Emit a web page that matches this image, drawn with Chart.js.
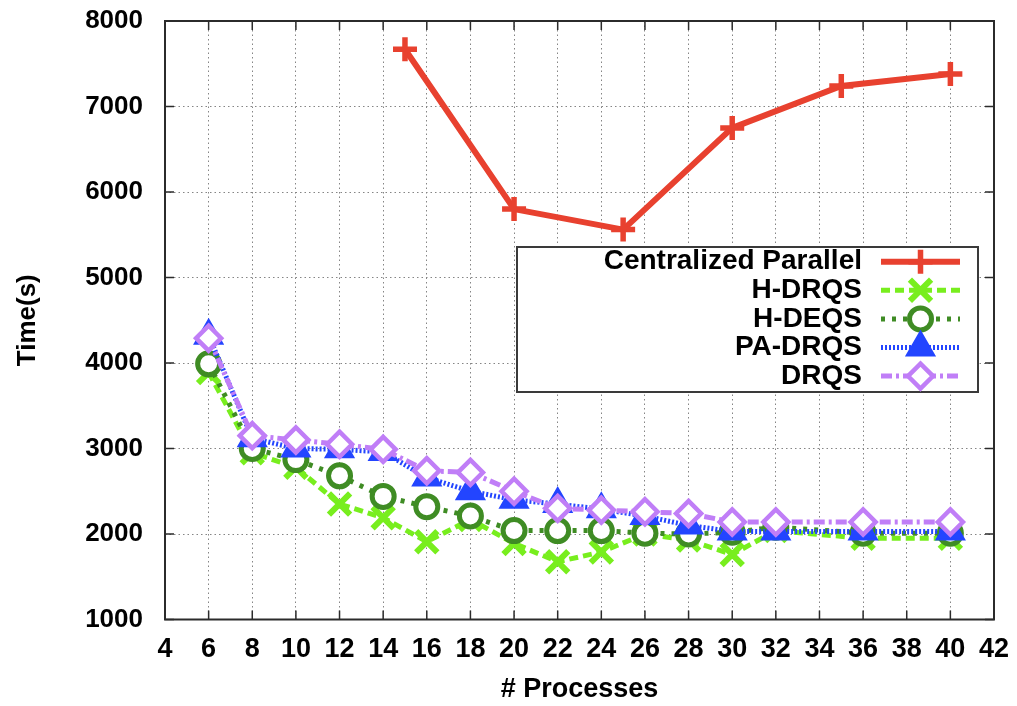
<!DOCTYPE html>
<html>
<head>
<meta charset="utf-8">
<title>Time vs. number of processes</title>
<script src="https://cdn.jsdelivr.net/npm/chart.js@4.4.1/dist/chart.umd.min.js"></script>
<style>
    html, body { margin: 0; padding: 0; background: #fff; }
    #wrap { width: 1017px; height: 706px; position: relative; }
</style>
</head>
<body>
<div id="wrap"><canvas id="timeChart"></canvas></div>
<script>
// Process counts on the x axis
const procCounts = [6, 8, 10, 12, 14, 16, 18, 20, 22, 24, 26, 28, 30, 32, 36, 40];
const centralProcs = [15, 20, 25, 30, 35, 40];

// Run times (s)
const centralizedParallel = [7670, 5800, 5560, 6750, 7240, 7380];
const hDrqs  = [3890, 2950, 2780, 2350, 2190, 1910, 2170, 1890, 1675, 1790, 2000, 1930, 1760, 2040, 1950, 1950];
const hDeqs  = [3990, 3000, 2870, 2680, 2440, 2320, 2210, 2040, 2040, 2040, 2010, 2000, 2020, 2080, 2010, 2010];
const paDrqs = [4320, 3120, 3000, 2990, 2960, 2660, 2500, 2400, 2350, 2290, 2210, 2100, 2030, 2030, 2030, 2030];
const drqs   = [4290, 3150, 3100, 3050, 2990, 2740, 2720, 2500, 2300, 2280, 2260, 2240, 2140, 2140, 2140, 2140];

// Axis ticks
const xTicks = [4, 6, 8, 10, 12, 14, 16, 18, 20, 22, 24, 26, 28, 30, 32, 34, 36, 38, 40, 42];
const yTicks = [1000, 2000, 3000, 4000, 5000, 6000, 7000, 8000];

const FONT = "'Liberation Sans', Arial, Helvetica, sans-serif";

function toPoints(xs, ys) {
    return xs.map((x, i) => ({ x: x, y: ys[i] }));
}

/**
 * Solid frame around the plot plus inward tick marks on all four sides
 */
const frameTicks = {
    id: 'frameTicks',
    afterDatasetsDraw(chart) {
        const { ctx, chartArea: a, scales } = chart;
        const len = 9;
        ctx.save();
        ctx.setLineDash([]);
        ctx.strokeStyle = '#2b2b2b';
        ctx.lineWidth = 1.5;
        ctx.beginPath();
        xTicks.forEach(v => {
            const px = scales.x.getPixelForValue(v);
            ctx.moveTo(px, a.bottom);
            ctx.lineTo(px, a.bottom - len);
            ctx.moveTo(px, a.top);
            ctx.lineTo(px, a.top + len);
        });
        yTicks.forEach(v => {
            const py = scales.y.getPixelForValue(v);
            ctx.moveTo(a.left, py);
            ctx.lineTo(a.left + len, py);
            ctx.moveTo(a.right, py);
            ctx.lineTo(a.right - len, py);
        });
        ctx.stroke();
        ctx.lineWidth = 2;
        ctx.strokeRect(a.left, a.top, a.right - a.left, a.bottom - a.top);
        ctx.restore();
    }
};

/**
 * Key box inside the plot: right-aligned labels, line sample with marker
 */
const keyBox = {
    id: 'keyBox',
    afterDraw(chart) {
        const ctx = chart.ctx;
        const box = { left: 517, top: 247, right: 978, bottom: 392 };
        const rowTop = 261.7;
        const rowStep = 28.6;
        const textRight = 862;
        const lineStart = 881;
        const lineEnd = 960;
        const markX = (lineStart + lineEnd) / 2;

        ctx.save();
        ctx.fillStyle = '#fff';
        ctx.fillRect(box.left, box.top, box.right - box.left, box.bottom - box.top);
        ctx.strokeStyle = '#3a3a3a';
        ctx.lineWidth = 2;
        ctx.setLineDash([]);
        ctx.strokeRect(box.left, box.top, box.right - box.left, box.bottom - box.top);

        chart.data.datasets.forEach((ds, i) => {
            const y = rowTop + i * rowStep;

            ctx.fillStyle = '#000';
            ctx.font = 'bold 28px ' + FONT;
            ctx.textAlign = 'right';
            ctx.textBaseline = 'middle';
            ctx.fillText(ds.label, textRight, y);

            ctx.beginPath();
            ctx.strokeStyle = ds.borderColor;
            ctx.lineWidth = ds.borderWidth;
            ctx.setLineDash(ds.borderDash || []);
            ctx.moveTo(lineStart, y);
            ctx.lineTo(lineEnd, y);
            ctx.stroke();

            ctx.setLineDash([]);
            ctx.strokeStyle = ds.pointBorderColor;
            ctx.fillStyle = ds.pointBackgroundColor;
            ctx.lineWidth = ds.pointBorderWidth;
            Chart.helpers.drawPoint(ctx, {
                pointStyle: ds.pointStyle,
                rotation: 0,
                radius: ds.pointRadius,
                borderWidth: ds.pointBorderWidth
            }, markX, y);
        });
        ctx.restore();
    }
};

const ctx = document.getElementById('timeChart').getContext('2d');

new Chart(ctx, {
    type: 'line',
    data: {
        datasets: [
            {
                label: 'Centralized Parallel',
                data: toPoints(centralProcs, centralizedParallel),
                borderColor: '#e8412f',
                borderWidth: 6,
                pointStyle: 'cross',
                pointRadius: 12,
                pointBorderWidth: 5.5,
                pointBorderColor: '#e8412f',
                pointBackgroundColor: '#e8412f',
                order: 4
            },
            {
                label: 'H-DRQS',
                data: toPoints(procCounts, hDrqs),
                borderColor: '#78ee1e',
                borderWidth: 5,
                borderDash: [9, 5],
                pointStyle: 'crossRot',
                pointRadius: 15,
                pointBorderWidth: 6,
                pointBorderColor: '#78ee1e',
                pointBackgroundColor: '#78ee1e',
                order: 3
            },
            {
                label: 'H-DEQS',
                data: toPoints(procCounts, hDeqs),
                borderColor: '#3f8c24',
                borderWidth: 5,
                borderDash: [4, 7],
                pointStyle: 'circle',
                pointRadius: 11,
                pointBorderWidth: 5,
                pointBorderColor: '#3f8c24',
                pointBackgroundColor: '#ffffff',
                order: 2
            },
            {
                label: 'PA-DRQS',
                data: toPoints(procCounts, paDrqs),
                borderColor: '#2345ff',
                borderWidth: 5,
                borderDash: [2, 2],
                pointStyle: 'triangle',
                pointRadius: 16,
                pointBorderWidth: 2,
                pointBorderColor: '#2345ff',
                pointBackgroundColor: '#2345ff',
                order: 1
            },
            {
                label: 'DRQS',
                data: toPoints(procCounts, drqs),
                borderColor: '#c07ef7',
                borderWidth: 5,
                borderDash: [11, 4, 3, 4],
                pointStyle: 'rectRot',
                pointRadius: 12.5,
                pointBorderWidth: 4.5,
                pointBorderColor: '#c07ef7',
                pointBackgroundColor: '#ffffff',
                order: 0
            }
        ]
    },
    options: {
        responsive: true,
        maintainAspectRatio: false,
        animation: false,
        devicePixelRatio: 1,
        layout: {
            padding: { top: 19.5, right: 23, left: 0, bottom: 0 }
        },
        elements: {
            line: { tension: 0, fill: false }
        },
        plugins: {
            legend: { display: false },
            tooltip: { enabled: false }
        },
        scales: {
            x: {
                type: 'linear',
                min: 4,
                max: 42,
                afterBuildTicks: scale => {
                    scale.ticks = xTicks.map(v => ({ value: v }));
                },
                afterFit: scale => {
                    // fixed axis band; end labels may hang into the margin
                    scale.height = 86.5;
                    scale.paddingLeft = 0;
                    scale.paddingRight = 0;
                },
                grid: {
                    color: '#858585',
                    lineWidth: 1,
                    drawTicks: false
                },
                border: {
                    display: false,
                    dash: [1.5, 3]
                },
                ticks: {
                    autoSkip: false,
                    maxRotation: 0,
                    padding: 14,
                    color: '#000',
                    font: { family: FONT, size: 27, weight: 'bold' }
                },
                title: {
                    display: true,
                    text: '# Processes',
                    color: '#000',
                    padding: { top: 0, bottom: 0 },
                    font: { family: FONT, size: 27, weight: 'bold' }
                }
            },
            y: {
                type: 'linear',
                min: 1000,
                max: 8000,
                afterBuildTicks: scale => {
                    scale.ticks = yTicks.map(v => ({ value: v }));
                },
                afterFit: scale => {
                    scale.width = 165;
                    scale.paddingTop = 0;
                    scale.paddingBottom = 0;
                },
                grid: {
                    color: '#858585',
                    lineWidth: 1,
                    drawTicks: false
                },
                border: {
                    display: false,
                    dash: [1.5, 3]
                },
                ticks: {
                    padding: 22,
                    color: '#000',
                    font: { family: FONT, size: 26, weight: 'bold' },
                    callback: value => String(value)
                },
                title: {
                    display: true,
                    text: 'Time(s)',
                    color: '#000',
                    padding: { top: 12, bottom: 0 },
                    font: { family: FONT, size: 26, weight: 'bold' }
                }
            }
        }
    },
    plugins: [frameTicks, keyBox]
});
</script>
</body>
</html>
